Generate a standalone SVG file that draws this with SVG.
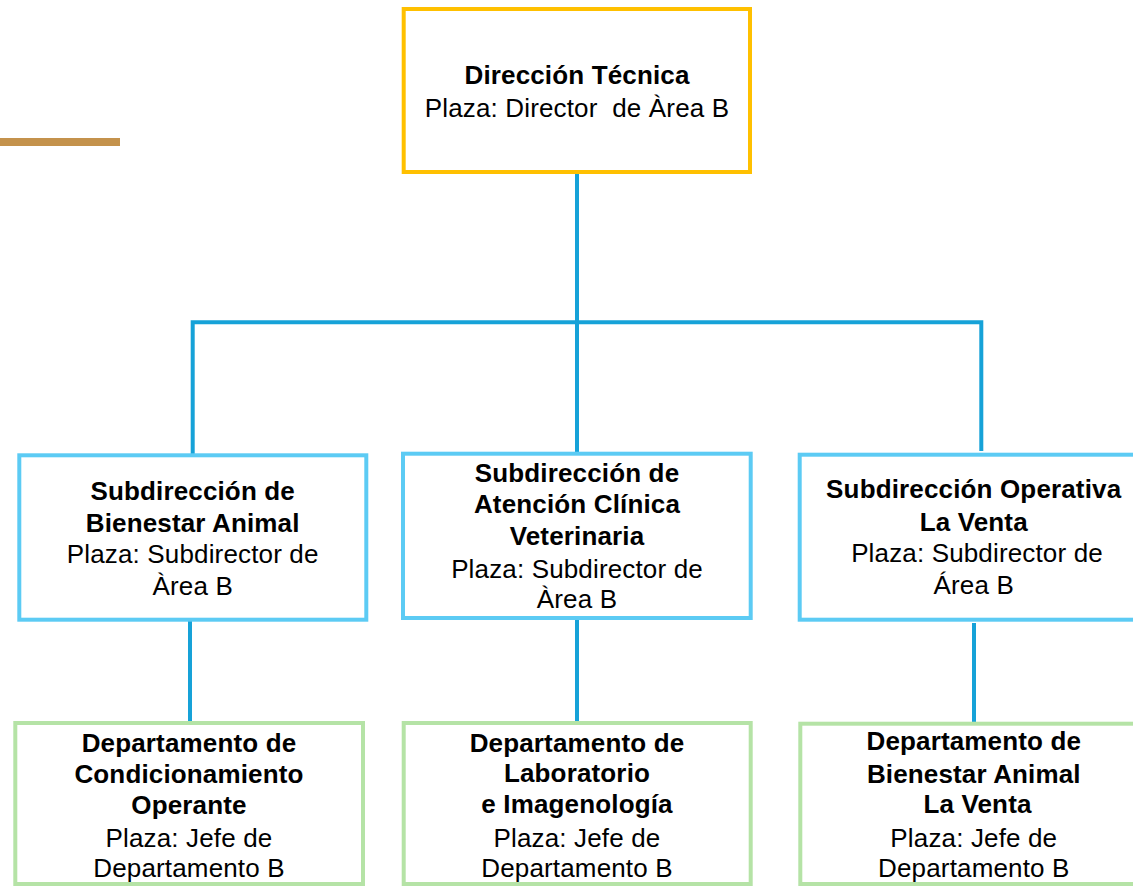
<svg xmlns="http://www.w3.org/2000/svg" width="1133" height="886" viewBox="0 0 1133 886">
<style>
.t{font-family:"Liberation Sans",Arial,sans-serif;font-size:26px;letter-spacing:0.15px;fill:#000;text-anchor:middle}
.b{font-weight:bold}
.top{fill:#fff;stroke:#FFC000;stroke-width:4}
.mid{fill:#fff;stroke:#5CCBF4;stroke-width:4}
.bot{fill:#fff;stroke:#B5E3A6;stroke-width:4}
.c{fill:none;stroke:#16A2D8;stroke-width:4}
</style>
<rect x="0" y="138" width="120" height="8" fill="#C4924C"/>
<g id="connectors">
<line class="c" x1="577" y1="174" x2="577" y2="322"/>
<polyline class="c" points="192.7,454 192.7,322.3 981.3,322.3 981.3,451"/>
<line class="c" x1="577" y1="322" x2="577" y2="452"/>
<line class="c" x1="190" y1="621" x2="190" y2="722"/>
<line class="c" x1="577" y1="620" x2="577" y2="722"/>
<line class="c" x1="974" y1="623" x2="974" y2="728"/>
</g>
<g id="direccion-tecnica">
<rect class="top" x="403.7" y="9" width="346.3" height="163"/>
<text class="t b" x="577" y="84">Dirección Técnica</text>
<text class="t" x="577" y="117" xml:space="preserve">Plaza: Director  de Àrea B</text>
</g>
<g id="sub-bienestar">
<rect class="mid" x="19.3" y="455.3" width="347" height="164.4"/>
<text class="t b" x="192.7" y="500">Subdirección de</text>
<text class="t b" x="192.7" y="531.7">Bienestar Animal</text>
<text class="t" x="192.7" y="563">Plaza: Subdirector de</text>
<text class="t" x="192.7" y="595">Àrea B</text>
</g>
<g id="sub-atencion">
<rect class="mid" x="403" y="453.7" width="347.7" height="164.3"/>
<text class="t b" x="577" y="481.7">Subdirección de</text>
<text class="t b" x="577" y="513.3">Atención Clínica</text>
<text class="t b" x="577" y="545">Veterinaria</text>
<text class="t" x="577" y="578.3">Plaza: Subdirector de</text>
<text class="t" x="577" y="608.3">Àrea B</text>
</g>
<g id="sub-operativa">
<rect class="mid" x="799.7" y="454.7" width="347" height="165"/>
<text class="t b" x="973.7" y="498.3">Subdirección Operativa</text>
<text class="t b" x="973.7" y="530.7">La Venta</text>
<text class="t" x="977" y="561.7">Plaza: Subdirector de</text>
<text class="t" x="973.7" y="594">Área B</text>
</g>
<g id="dep-condicionamiento">
<rect class="bot" x="15.3" y="723" width="347.7" height="161"/>
<text class="t b" x="189" y="751.7">Departamento de</text>
<text class="t b" x="189" y="782.5">Condicionamiento</text>
<text class="t b" x="189" y="813.5">Operante</text>
<text class="t" x="189" y="846.7">Plaza: Jefe de</text>
<text class="t" x="189" y="876.7">Departamento B</text>
</g>
<g id="dep-laboratorio">
<rect class="bot" x="403.7" y="723" width="347" height="161"/>
<text class="t b" x="577" y="751.7">Departamento de</text>
<text class="t b" x="577" y="781.7">Laboratorio</text>
<text class="t b" x="577" y="813.3">e Imagenología</text>
<text class="t" x="577" y="846.7">Plaza: Jefe de</text>
<text class="t" x="577" y="876.7">Departamento B</text>
</g>
<g id="dep-bienestar-venta">
<rect class="bot" x="800.3" y="723.7" width="347" height="160.3"/>
<text class="t b" x="973.8" y="750">Departamento de</text>
<text class="t b" x="973.8" y="782.7">Bienestar Animal</text>
<text class="t b" x="977.5" y="813.3">La Venta</text>
<text class="t" x="973.8" y="846.7">Plaza: Jefe de</text>
<text class="t" x="973.8" y="877.3">Departamento B</text>
</g>
</svg>
